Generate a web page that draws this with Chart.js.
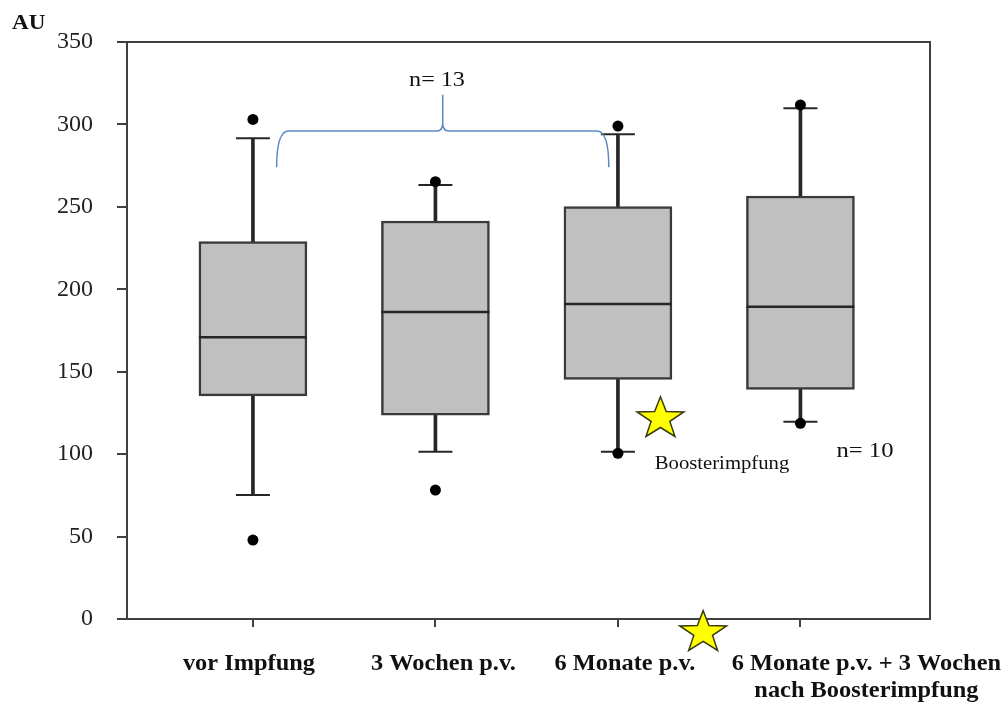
<!DOCTYPE html>
<html>
<head>
<meta charset="utf-8">
<title>AU Boxplot</title>
<script src="https://cdn.jsdelivr.net/npm/chart.js@4.4.1/dist/chart.umd.min.js"></script>
<style>
  body { margin: 0; background: #fff; }
</style>
</head>
<body>
<canvas id="mycanvas" width="1008" height="707"></canvas>
<script>
var kategorien = ['vor Impfung', '3 Wochen p.v.', '6 Monate p.v.', ['6 Monate p.v. + 3 Wochen', 'nach Boosterimpfung']];
var minimum = [75.2, 101.5, 101.5, 119.7];
var q1 = [135.3, 123.7, 145.4, 139.3];
var median = [170.9, 186.2, 191.1, 189.4];
var q3 = [228.9, 241.4, 250.1, 256.6];
var maximum = [291.6, 263.3, 294, 309.8];
var ausreisserOben = [303, 265.3, 299, 311.8];
var ausreisserUnten = [47.9, 78.2, 100.5, 118.7];

var SCHRIFT = "'Liberation Serif', 'Times New Roman', serif";

var boxDaten = [], whiskerDaten = [], medianDaten = [], kappenDaten = [], punktDaten = [];
for (var i = 0; i < kategorien.length; i++) {
  boxDaten.push({x: i + 1, y: [q1[i], q3[i]]});
  whiskerDaten.push({x: i + 1, y: [q3[i], maximum[i]]});
  whiskerDaten.push({x: i + 1, y: [minimum[i], q1[i]]});
  medianDaten.push({x: i + 1, y: median[i]});
  kappenDaten.push({x: i + 1, y: maximum[i]});
  kappenDaten.push({x: i + 1, y: minimum[i]});
  punktDaten.push({x: i + 1, y: ausreisserOben[i]});
  punktDaten.push({x: i + 1, y: ausreisserUnten[i]});
}

// Text mit leichter horizontaler Streckung
function schreibe(ctx, t, px, py, font, sx, align) {
  ctx.save();
  ctx.translate(px, py);
  ctx.scale(sx, 1);
  ctx.font = font;
  ctx.textAlign = align || 'center';
  ctx.textBaseline = 'alphabetic';
  ctx.fillText(t, 0, 0);
  ctx.restore();
}

function stern(ctx, cx, cy, r) {
  ctx.beginPath();
  for (var k = 0; k < 10; k++) {
    var rad = k % 2 ? r * 0.4 : r;
    var ang = -Math.PI / 2 + k * Math.PI / 5;
    var px = cx + Math.cos(ang) * rad * 1.12;
    var py = cy + Math.sin(ang) * rad;
    if (k) ctx.lineTo(px, py); else ctx.moveTo(px, py);
  }
  ctx.closePath();
  ctx.fill();
  ctx.stroke();
}

var extras = {
  id: 'extras',
  afterDraw: function(chart) {
    var ctx = chart.ctx, x = chart.scales.x, y = chart.scales.y, a = chart.chartArea;
    ctx.save();

    // Rahmen oben und rechts
    ctx.strokeStyle = '#404040';
    ctx.lineWidth = 2;
    ctx.beginPath();
    ctx.moveTo(a.left, a.top);
    ctx.lineTo(a.right, a.top);
    ctx.lineTo(a.right, a.bottom);
    ctx.stroke();

    // geschweifte Klammer n=13
    var bx0 = x.getPixelForValue(1.13), bx1 = x.getPixelForValue(2.95), bxm = x.getPixelForValue(2.04);
    var by = y.getPixelForValue(296), byEnd = y.getPixelForValue(274), byTip = y.getPixelForValue(318);
    ctx.strokeStyle = '#5a8ac6';
    ctx.lineWidth = 1.5;
    ctx.beginPath();
    ctx.moveTo(bx0, byEnd);
    ctx.quadraticCurveTo(bx0, by, bx0 + 12, by);
    ctx.lineTo(bxm - 6, by);
    ctx.quadraticCurveTo(bxm, by, bxm, by - 8);
    ctx.lineTo(bxm, byTip);
    ctx.moveTo(bxm, by - 8);
    ctx.quadraticCurveTo(bxm, by, bxm + 6, by);
    ctx.lineTo(bx1 - 12, by);
    ctx.quadraticCurveTo(bx1, by, bx1, byEnd);
    ctx.stroke();

    // Sterne
    ctx.fillStyle = '#ffff00';
    ctx.strokeStyle = '#3a3a10';
    ctx.lineWidth = 1.5;
    stern(ctx, x.getPixelForValue(3.233), y.getPixelForValue(121.5), 22);
    stern(ctx, x.getPixelForValue(3.467), y.getPixelForValue(-8.3), 22);

    // Beschriftungen
    ctx.fillStyle = '#111';
    schreibe(ctx, 'AU', 12, 29, 'bold 22px ' + SCHRIFT, 1.05, 'left');
    schreibe(ctx, 'n= 13', 437, 86, '21px ' + SCHRIFT, 1.15);
    schreibe(ctx, 'Boosterimpfung', 722, 469, '18px ' + SCHRIFT, 1.15);
    schreibe(ctx, 'n= 10', 865, 457, '22px ' + SCHRIFT, 1.12);

    // Kategorien der x-Achse
    var versatz = [-4, 8, 7, 66];
    kategorien.forEach(function(lab, i) {
      var px = x.getPixelForValue(i + 1) + versatz[i];
      [].concat(lab).forEach(function(zeile, j) {
        schreibe(ctx, zeile, px, a.bottom + 51 + j * 27, 'bold 23px ' + SCHRIFT, 1.06);
      });
    });
    ctx.restore();
  }
};

var ctx = document.getElementById('mycanvas');

var boxPlot = new Chart(ctx, {
  type: 'bar',
  data: {
    datasets: [
      {
        type: 'bar',
        data: boxDaten,
        backgroundColor: '#c0c0c0',
        borderColor: '#3a3a3a',
        borderWidth: 2.5,
        borderSkipped: false,
        barThickness: 108,
        grouped: false,
        order: 2
      },
      {
        type: 'bar',
        data: whiskerDaten,
        backgroundColor: '#262626',
        borderWidth: 0,
        barThickness: 3,
        grouped: false,
        order: 3
      },
      {
        type: 'scatter',
        data: medianDaten,
        pointStyle: 'line',
        pointRadius: 54,
        pointBorderColor: '#262626',
        pointBorderWidth: 2.5,
        order: 1
      },
      {
        type: 'scatter',
        data: kappenDaten,
        pointStyle: 'line',
        pointRadius: 17,
        pointBorderColor: '#262626',
        pointBorderWidth: 2,
        order: 1
      },
      {
        type: 'scatter',
        data: punktDaten,
        pointStyle: 'circle',
        pointRadius: 5.5,
        pointBackgroundColor: '#000',
        pointBorderWidth: 0,
        order: 0
      }
    ]
  },
  options: {
    responsive: false,
    animation: false,
    events: [],
    layout: { autoPadding: false, padding: { top: 42, right: 78, left: 0, bottom: 0 } },
    plugins: {
      legend: { display: false },
      tooltip: { enabled: false }
    },
    scales: {
      x: {
        type: 'linear',
        min: 0.31,
        max: 4.71,
        offset: false,
        afterBuildTicks: function(s) {
          s.ticks = kategorien.map(function(k, i) { return {value: i + 1}; });
        },
        ticks: { display: false },
        grid: { offset: false, drawOnChartArea: false, drawTicks: true, tickLength: 8, color: '#404040', lineWidth: 2 },
        border: { display: true, color: '#404040', width: 2 },
        afterFit: function(s) { s.height = 88; }
      },
      y: {
        min: 0,
        max: 350,
        ticks: { stepSize: 50, padding: 24, color: '#222', font: { family: SCHRIFT, size: 24 } },
        grid: { drawOnChartArea: false, drawTicks: true, tickLength: 10, color: '#404040', lineWidth: 2 },
        border: { display: true, color: '#404040', width: 2 },
        afterFit: function(s) { s.width = 127; }
      }
    }
  },
  plugins: [extras]
});
</script>
</body>
</html>
